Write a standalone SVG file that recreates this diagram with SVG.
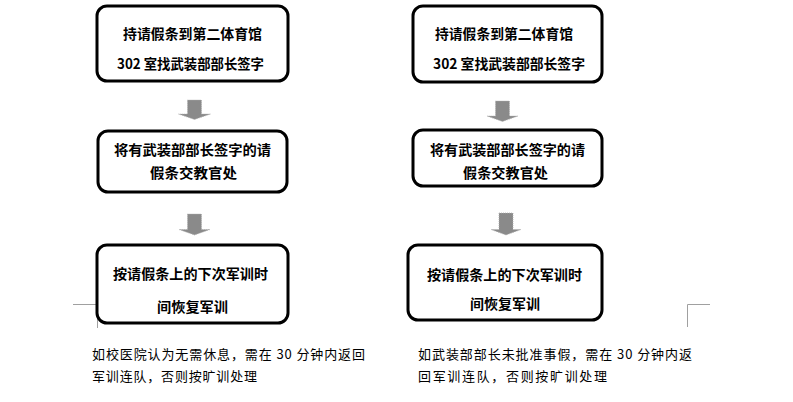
<svg xmlns="http://www.w3.org/2000/svg" width="793" height="402" viewBox="0 0 793 402">
<style>
  .box { fill: #ffffff; stroke: #000000; stroke-width: 3; }
  .bt { font-family: "Noto Sans CJK SC", "Noto Sans", sans-serif; font-size: 14px; font-weight: 700; fill: #000000; }
  .nt { font-family: "Noto Sans CJK SC", "Noto Sans", sans-serif; font-size: 13px; font-weight: 400; fill: #000000; }
  .arrow { fill: #8a8a8a; stroke: #b0b0b0; stroke-width: 0.8; stroke-dasharray: 1 1; }
  .crop { stroke: #a0a0a0; stroke-width: 1; fill: none; }
</style>
<rect x="0" y="0" width="793" height="402" fill="#ffffff"/>

<g id="crop-marks">
  <path class="crop" d="M73 304.5 H97.5 V328"/>
  <path class="crop" d="M710 304.5 H687.5 V327"/>
</g>

<g id="connectors">
  <polygon class="arrow" points="187.5,100 201.5,100 201.5,114 210.5,114 194.5,119.5 178.5,114 187.5,114"/>
  <polygon class="arrow" points="187.5,214 201.5,214 201.5,229.5 210,229.5 194.5,235 179,229.5 187.5,229.5"/>
  <polygon class="arrow" points="495.5,101 509.5,101 509.5,116 518,116 502.5,121.5 487,116 495.5,116"/>
  <polygon class="arrow" points="499,213 513,213 513,229.5 521,229.5 506,235 491,229.5 499,229.5"/>
</g>

<g id="L1">
  <rect class="box" x="97" y="6" width="191" height="75" rx="10"/>
  <text class="bt" x="123" y="38.5" textLength="139" lengthAdjust="spacingAndGlyphs">持请假条到第二体育馆</text>
  <text class="bt" x="117" y="68.5" textLength="147" lengthAdjust="spacingAndGlyphs">302 室找武装部部长签字</text>
</g>
<g id="L2">
  <rect class="box" x="98" y="131" width="189" height="61" rx="10"/>
  <text class="bt" x="114" y="154.5" textLength="157" lengthAdjust="spacingAndGlyphs">将有武装部部长签字的请</text>
  <text class="bt" x="150" y="177.5" textLength="87" lengthAdjust="spacingAndGlyphs">假条交教官处</text>
</g>
<g id="L3">
  <rect class="box" x="97" y="245" width="191" height="78" rx="10"/>
  <text class="bt" x="113" y="278.5" textLength="155" lengthAdjust="spacingAndGlyphs">按请假条上的下次军训时</text>
  <text class="bt" x="157" y="311.5" textLength="71" lengthAdjust="spacingAndGlyphs">间恢复军训</text>
</g>

<g id="R1">
  <rect class="box" x="413" y="6" width="189" height="76" rx="10"/>
  <text class="bt" x="435" y="38.5" textLength="138" lengthAdjust="spacingAndGlyphs">持请假条到第二体育馆</text>
  <text class="bt" x="433" y="68.5" textLength="152" lengthAdjust="spacingAndGlyphs">302 室找武装部部长签字</text>
</g>
<g id="R2">
  <rect class="box" x="413" y="130" width="189" height="56" rx="10"/>
  <text class="bt" x="430" y="154.5" textLength="155" lengthAdjust="spacingAndGlyphs">将有武装部部长签字的请</text>
  <text class="bt" x="463" y="177.5" textLength="85" lengthAdjust="spacingAndGlyphs">假条交教官处</text>
</g>
<g id="R3">
  <rect class="box" x="408" y="245" width="194" height="75" rx="10"/>
  <text class="bt" x="427" y="279.5" textLength="155" lengthAdjust="spacingAndGlyphs">按请假条上的下次军训时</text>
  <text class="bt" x="470" y="309" textLength="70" lengthAdjust="spacingAndGlyphs">间恢复军训</text>
</g>

<g id="note-left">
  <text class="nt" x="92" y="359" textLength="273" lengthAdjust="spacing">如校医院认为无需休息，需在 30 分钟内返回</text>
  <text class="nt" x="92" y="381" textLength="165" lengthAdjust="spacing">军训连队，否则按旷训处理</text>
</g>
<g id="note-right">
  <text class="nt" x="418" y="359" textLength="274" lengthAdjust="spacing">如武装部部长未批准事假，需在 30 分钟内返</text>
  <text class="nt" x="418" y="381" textLength="189" lengthAdjust="spacing">回军训连队，否则按旷训处理</text>
</g>
</svg>
